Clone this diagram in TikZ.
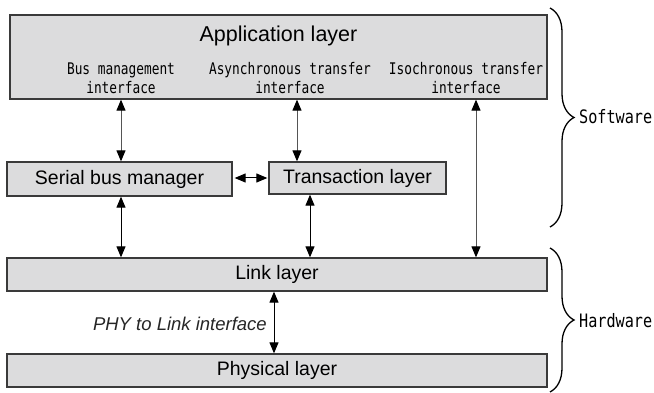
\documentclass[tikz,border=0pt]{standalone}
\usepackage{fontspec}
\setmainfont{Liberation Sans}
\newfontfamily\gothicmono[FakeStretch=0.8]{DejaVu Sans Mono}
\newfontfamily\gothicside[FakeStretch=0.82]{DejaVu Sans Mono}
\usetikzlibrary{arrows.meta,decorations.pathreplacing}
\definecolor{boxfill}{HTML}{DCDCDD}
\definecolor{boxline}{HTML}{3A3A3A}
\definecolor{shaft}{HTML}{555555}
\tikzset{
  layerbox/.style={draw=boxline, fill=boxfill, line width=1.3pt, inner sep=0pt,
    font=\fontsize{19.5}{22}\selectfont},
  iflabel/.style={align=center, inner sep=0pt,
    font=\gothicmono\fontsize{16}{19}\selectfont},
  sidelabel/.style={anchor=west, inner sep=0pt,
    font=\gothicside\fontsize{18.5}{20}\selectfont},
  tip/.style={Triangle[length=11pt,width=9pt,fill=black,draw=black]},
  biarrow/.style={draw=shaft, line width=1pt, {Triangle[length=11pt,width=9pt,fill=black,color=black]}-{Triangle[length=11pt,width=9pt,fill=black,color=black]}},
  sidebrace/.style={decorate, line width=1.3pt,
    decoration={brace, amplitude=24pt, aspect=0.5}}
}
\begin{document}
\begin{tikzpicture}[x=1pt, y=-1pt]
\useasboundingbox (0,0) rectangle (654,393);

% layers
\node[layerbox, minimum width=537pt, minimum height=84pt] (app) at (278.5,57) {};
\node[font=\fontsize{21.5}{24}\selectfont, inner sep=0pt] (apptitle) at (278.5,36) {Application layer};
\node[layerbox, minimum width=225pt, minimum height=34pt] (sbm) at (119.5,179) {Serial bus manager};
\node[layerbox, minimum width=177pt, minimum height=32pt] (tl) at (357.5,178) {Transaction layer};
\node[layerbox, minimum width=540pt, minimum height=33pt] (link) at (277,274.5) {Link layer};
\node[layerbox, minimum width=540pt, minimum height=33pt] (phys) at (277,370.5) {Physical layer};

% interface labels inside the application layer
\node[iflabel] (bmi) at (121,78) {Bus management\\interface};
\node[iflabel] (ati) at (290,78) {Asynchronous transfer\\interface};
\node[iflabel] (iti) at (466,78) {Isochronous transfer\\interface};

% columns of the vertical connectors
\coordinate (cbm) at (121,0);
\coordinate (cat) at (297,0);
\coordinate (cit) at (476,0);
\coordinate (ctl) at (310,0);
\coordinate (cph) at (274,0);

% connectors
\draw[biarrow] (cbm |- app.south) -- (cbm |- sbm.north);
\draw[biarrow] (cat |- app.south) -- (cat |- tl.north);
\draw[biarrow] (cit |- app.south) -- (cit |- link.north);
\draw[biarrow, draw=black] ([xshift=2pt]sbm.east |- 0,178) -- ([xshift=-1pt]tl.west |- 0,178);
\draw[biarrow, draw=black] (cbm |- sbm.south) -- (cbm |- link.north);
\draw[biarrow, draw=black] (ctl |- tl.south) -- (ctl |- link.north);
\draw[biarrow, draw=black] (cph |- link.south) -- (cph |- phys.north);

\node[anchor=east, inner sep=0pt, font=\itshape\fontsize{18.5}{21}\selectfont, text=black!85] (phyif) at (267,324) {PHY to Link interface};

% software / hardware braces
\coordinate (swtop) at (550,8);
\coordinate (swbot) at (550,227);
\coordinate (hwtop) at (550,248);
\coordinate (hwbot) at (550,392);
\draw[sidebrace] (swtop) -- (swbot);
\draw[sidebrace] (hwtop) -- (hwbot);
\node[sidelabel] (sw) at (579,117) {Software};
\node[sidelabel] (hw) at (579,321) {Hardware};
\end{tikzpicture}
\end{document}
